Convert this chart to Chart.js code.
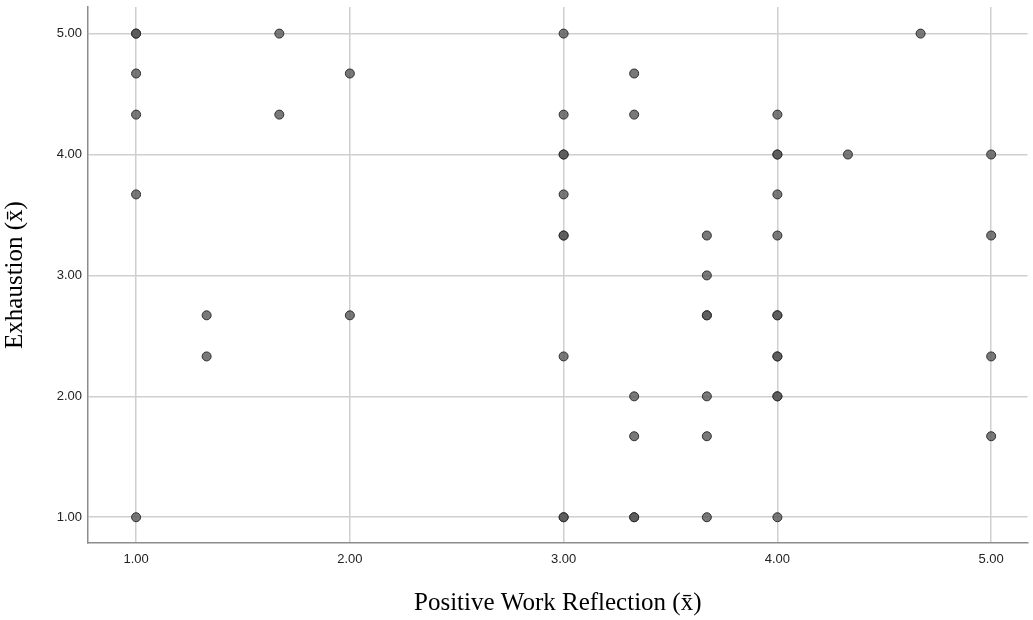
<!DOCTYPE html>
<html>
<head>
<meta charset="utf-8">
<script src="https://cdn.jsdelivr.net/npm/chart.js@4.4.0/dist/chart.umd.min.js"></script>
<style>
  html, body { margin: 0; padding: 0; background: #fff; }
  #wrap { width: 1033px; height: 620px; }
</style>
</head>
<body>
<div id="wrap"><canvas id="chart"></canvas></div>
<script>
// Positive Work Reflection (x) / Exhaustion (y) pairs
const reflection = [
  1.00, 1.00, 1.00, 1.00, 1.00, 1.00,
  1.33, 1.33,
  1.67, 1.67,
  2.00, 2.00,
  3.00, 3.00, 3.00, 3.00, 3.00, 3.00, 3.00, 3.00, 3.00, 3.00,
  3.33, 3.33, 3.33, 3.33, 3.33, 3.33,
  3.67, 3.67, 3.67, 3.67, 3.67, 3.67, 3.67,
  4.00, 4.00, 4.00, 4.00, 4.00, 4.00, 4.00, 4.00, 4.00, 4.00, 4.00, 4.00,
  4.33,
  4.67,
  5.00, 5.00, 5.00, 5.00
];
const exhaustion = [
  5.00, 5.00, 4.67, 4.33, 3.67, 1.00,
  2.67, 2.33,
  5.00, 4.33,
  4.67, 2.67,
  5.00, 4.33, 4.00, 4.00, 3.67, 3.33, 3.33, 2.33, 1.00, 1.00,
  4.67, 4.33, 2.00, 1.67, 1.00, 1.00,
  3.33, 3.00, 2.67, 2.67, 2.00, 1.67, 1.00,
  4.33, 4.00, 4.00, 3.67, 3.33, 2.67, 2.67, 2.33, 2.33, 2.00, 2.00, 1.00,
  4.00,
  5.00,
  4.00, 3.33, 2.33, 1.67
];
const tickValues = [1, 2, 3, 4, 5];
const xTitle = "Positive Work Reflection (x\u0304)";
const yTitle = "Exhaustion (x\u0304)";

const points = reflection.map((x, i) => ({ x: x, y: exhaustion[i] }));

const gridColor = "#cfcfcf";
const axisColor = "#8c8c8c";
const tickFont = { family: "'Liberation Sans', Arial, sans-serif", size: 13 };
const titleFont = { family: "'Liberation Serif', 'Times New Roman', serif", size: 25 };

function fixedTicks(scale) {
  scale.ticks = tickValues.map((v) => ({ value: v }));
}

// no extra room for edge labels, the plot runs to the canvas edge
function noPadding(scale) {
  scale.paddingTop = 0;
  scale.paddingBottom = 0;
  scale.paddingLeft = 0;
  scale.paddingRight = 0;
}

new Chart(document.getElementById("chart"), {
  type: "scatter",
  data: {
    datasets: [
      {
        data: points,
        pointRadius: 4.5,
        pointHoverRadius: 4.5,
        pointBackgroundColor: "rgba(88, 88, 88, 0.8)",
        pointBorderColor: "#2e2e2e",
        pointBorderWidth: 1,
      },
    ],
  },
  options: {
    responsive: true,
    maintainAspectRatio: false,
    animation: false,
    layout: { padding: { top: 7, right: -6, left: 0, bottom: 0 } },
    plugins: {
      legend: { display: false },
      tooltip: { enabled: false },
    },
    scales: {
      x: {
        type: "linear",
        min: 0.775,
        max: 5.17,
        afterBuildTicks: fixedTicks,
        afterFit: (scale) => { scale.height = 77; noPadding(scale); },
        grid: { color: gridColor, lineWidth: 1.5, drawTicks: false },
        border: { color: axisColor, width: 1.5 },
        ticks: {
          color: "#222",
          font: tickFont,
          padding: 9,
          maxRotation: 0,
          callback: (v) => Number(v).toFixed(2),
        },
        title: {
          display: true,
          text: xTitle,
          color: "#000",
          font: titleFont,
          padding: { top: 14, bottom: 2 },
        },
      },
      y: {
        type: "linear",
        min: 0.787,
        max: 5.22,
        afterBuildTicks: fixedTicks,
        afterFit: (scale) => { scale.width = 88; noPadding(scale); },
        grid: { color: gridColor, lineWidth: 1.5, drawTicks: false },
        border: { color: axisColor, width: 1.5 },
        ticks: {
          color: "#222",
          font: tickFont,
          padding: 6,
          callback: (v) => Number(v).toFixed(2),
        },
        title: {
          display: true,
          text: yTitle,
          color: "#000",
          font: titleFont,
          padding: { top: 0, bottom: 0 },
        },
      },
    },
  },
});
</script>
</body>
</html>
